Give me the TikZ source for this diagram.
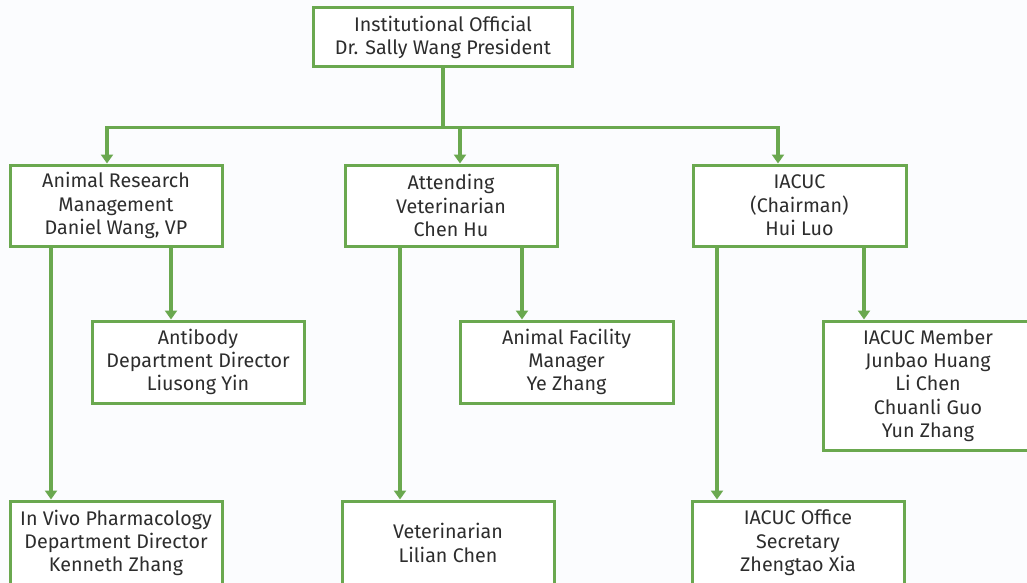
\documentclass[tikz,border=0pt]{standalone}
\usepackage{fontspec}
\setmainfont{Fira Sans}
\usetikzlibrary{arrows.meta}
\definecolor{leaf}{RGB}{106,168,79}
\definecolor{ink}{RGB}{45,45,45}
\definecolor{paper}{RGB}{251,252,254}
\tikzset{
  box/.style={draw=leaf, line width=3pt, fill=white, text=ink, align=center,
    inner sep=0pt, font=\fontsize{19.7}{23.3}\selectfont},
  link/.style={draw=leaf, line width=3.6pt},
  arr/.style={link, -{Triangle[width=12pt,length=9pt]}},
}
\begin{document}
\begin{tikzpicture}[x=1pt,y=-1pt]
  \fill[paper] (0,0) rectangle (1027,583);
  \useasboundingbox (0,0) rectangle (1027,583);
  \begin{scope}
  \clip (0,0) rectangle (1027,583);
  % top level
  \node[box, minimum width=259pt, minimum height=59pt] (top) at (443,37.5)
    {Institutional Official\\Dr. Sally Wang President};
  % second level
  \node[box, minimum width=212pt, minimum height=81pt] (arm) at (116,205.5)
    {Animal Research\\Management\\Daniel Wang, VP};
  \node[box, minimum width=212pt, minimum height=81pt] (att) at (451,205.5)
    {Attending\\Veterinarian\\Chen Hu};
  \node[box, minimum width=213pt, minimum height=81pt] (iac) at (799.5,205.5)
    {IACUC\\(Chairman)\\Hui Luo};
  % third level
  \node[box, minimum width=212pt, minimum height=82pt] (ab) at (198,362)
    {Antibody\\Department Director\\Liusong Yin};
  \node[box, minimum width=213pt, minimum height=82pt] (af) at (566.5,362)
    {Animal Facility\\Manager\\Ye Zhang};
  \node[box, minimum width=210pt, minimum height=129pt] (mem) at (928,385.5)
    {IACUC Member\\Junbao Huang\\Li Chen\\Chuanli Guo\\Yun Zhang};
  % bottom level
  \node[box, minimum width=212pt, minimum height=84pt] (ivp) at (116,543)
    {In Vivo Pharmacology\\Department Director\\Kenneth Zhang};
  \node[box, minimum width=212pt, minimum height=84pt] (vet) at (448,543)
    {Veterinarian\\Lilian Chen};
  \node[box, minimum width=212pt, minimum height=84pt] (off) at (798,543)
    {IACUC Office\\Secretary\\Zhengtao Xia};
  % connectors
  \coordinate (bus) at ([yshift=-59pt]top.south);
  \draw[link] (top.south) -- (bus);
  \draw[link] (bus) -- ++(-336,0);
  \draw[link] (bus) -- ++(335,0);
  \draw[arr] (bus) -| ([xshift=-9pt]arm.north);
  \draw[arr] (bus) -| ([xshift=9pt]att.north);
  \draw[arr] (bus) -| ([xshift=-21.5pt]iac.north);
  \draw[arr] ([xshift=-65pt]arm.south) -- ([xshift=-65pt]arm.south |- ivp.north);
  \draw[arr] ([xshift=55pt]arm.south) -- ([xshift=55pt]arm.south |- ab.north);
  \draw[arr] ([xshift=-51pt]att.south) -- ([xshift=-51pt]att.south |- vet.north);
  \draw[arr] ([xshift=71pt]att.south) -- ([xshift=71pt]att.south |- af.north);
  \draw[arr] ([xshift=-82.5pt]iac.south) -- ([xshift=-82.5pt]iac.south |- off.north);
  \draw[arr] ([xshift=64.5pt]iac.south) -- ([xshift=64.5pt]iac.south |- mem.north);
  \end{scope}
\end{tikzpicture}
\end{document}
